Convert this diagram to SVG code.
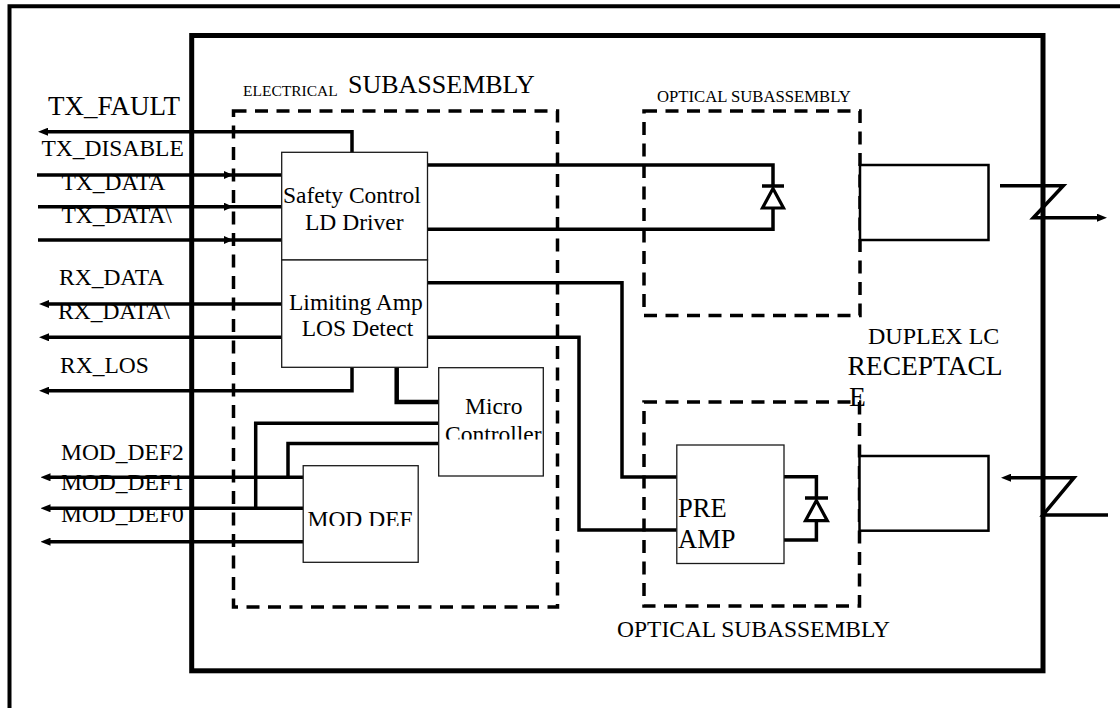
<svg xmlns="http://www.w3.org/2000/svg" width="1120" height="708" viewBox="0 0 1120 708">
<style>
.box{fill:#fff;stroke:#1a1a1a;stroke-width:1.3}
.rbox{fill:#fff;stroke:#000;stroke-width:2.5}
.dash{fill:none;stroke:#000;stroke-width:3.5;stroke-dasharray:13 8.5}
.w{fill:none;stroke:#000;stroke-width:3.5}
.d{fill:#fff;stroke:#000;stroke-width:3.2}
.t{font-family:"Liberation Serif","Times New Roman",serif;fill:#000}
.s{font-size:23.5px}
</style>
<defs>
<marker id="arrL" viewBox="0 0 10 8" refX="4" refY="4" markerWidth="10" markerHeight="8" markerUnits="userSpaceOnUse" orient="auto"><path d="M0,0L10,4L0,8z"/></marker>
<marker id="arrS" viewBox="0 0 9 8" refX="6" refY="4" markerWidth="9" markerHeight="8" markerUnits="userSpaceOnUse" orient="auto"><path d="M0,0L9,4L0,8z"/></marker>
<clipPath id="cpMicro"><rect x="439" y="368" width="104" height="71.5"/></clipPath>
<clipPath id="cpMod"><rect x="304" y="466" width="114" height="60"/></clipPath>
</defs>
<rect width="1120" height="708" fill="#fff"/>
<g id="frames">
<path d="M9.5,708V6.3H1120" fill="none" stroke="#000" stroke-width="4"/>
<rect x="191.7" y="35.5" width="851.3" height="635.3" fill="none" stroke="#000" stroke-width="5"/>
</g>
<g id="electrical-subassembly">
<rect class="dash" x="233.5" y="111" width="324" height="496"/>
<text class="t" x="243" y="96" font-size="15.5">ELECTRICAL</text>
<text class="t" x="348" y="93.3" font-size="26">SUBASSEMBLY</text>
</g>
<g id="optical-subassembly-tx">
<rect class="dash" x="644" y="111" width="216" height="204.5"/>
<text class="t" x="657" y="101.7" font-size="16.7">OPTICAL SUBASSEMBLY</text>
</g>
<g id="optical-subassembly-rx">
<rect class="dash" x="644" y="402" width="215.5" height="204"/>
<text class="t" x="617" y="637" font-size="23.5">OPTICAL SUBASSEMBLY</text>
</g>
<g id="signal-labels">
<text class="t" x="48" y="115" font-size="27">TX_FAULT</text>
<text class="t s" x="41.5" y="156">TX_DISABLE</text>
<text class="t s" x="61.5" y="190">TX_DATA</text>
<text class="t s" x="61.5" y="223">TX_DATA\</text>
<text class="t s" x="59" y="285">RX_DATA</text>
<text class="t s" x="58" y="319">RX_DATA\</text>
<text class="t s" x="60" y="372.7">RX_LOS</text>
<text class="t s" x="61" y="460">MOD_DEF2</text>
<text class="t s" x="61" y="490">MOD_DEF1</text>
<text class="t s" x="61" y="521.7">MOD_DEF0</text>
</g>
<g id="connectors">
<path class="w" d="M352,152V131.7H44" marker-end="url(#arrL)"/>
<path class="w" d="M37,175H230" marker-end="url(#arrS)"/>
<path class="w" d="M230,175H281.7"/>
<path class="w" d="M38,206.7H230" marker-end="url(#arrS)"/>
<path class="w" d="M230,206.7H281.7"/>
<path class="w" d="M38,240H230" marker-end="url(#arrS)"/>
<path class="w" d="M230,240H281.7"/>
<path class="w" d="M427.5,165H773V186"/>
<path class="w" d="M773,208V229.3H427.5"/>
<path class="w" d="M281.7,304H45" marker-end="url(#arrL)"/>
<path class="w" d="M281.7,337.3H45" marker-end="url(#arrL)"/>
<path class="w" d="M352,367.3V390.7H45" marker-end="url(#arrL)"/>
<path fill="none" stroke="#000" stroke-width="4.5" d="M396.7,367.3V402H438.5"/>
<path class="w" d="M427.5,282.7H622V477H676.8"/>
<path class="w" d="M427.5,337.3H579V530H676.8"/>
<path class="w" d="M438.5,423.3H255.7V508.3"/>
<path class="w" d="M438.5,443.5H288V477.3"/>
<path class="w" d="M303.2,477.3H46.5" marker-end="url(#arrL)"/>
<path class="w" d="M303.2,508.3H46.5" marker-end="url(#arrL)"/>
<path class="w" d="M303.2,541.7H46.5" marker-end="url(#arrL)"/>
<path class="w" d="M784,476.7H816.4V498"/>
<path class="w" d="M816.4,520.7V540H784"/>
<path class="w" d="M1000,185.7H1063.3L1033.3,217.7H1101" marker-end="url(#arrL)"/>
<path class="w" d="M1108,515H1043L1074,477.7H1007" marker-end="url(#arrL)"/>
</g>
<g id="laser-diode">
<path class="w" d="M762,186H784"/>
<polygon class="d" points="773,188.5 762.5,208 783.5,208"/>
</g>
<g id="photo-diode">
<path class="w" d="M805,498H828"/>
<polygon class="d" points="816.4,500.5 805.5,520.7 827.3,520.7"/>
</g>
<g id="safety-control">
<rect class="box" x="281.7" y="152.3" width="145.8" height="107.7"/>
<text class="t s" x="283" y="202.7">Safety Control</text>
<text class="t s" x="305" y="230">LD Driver</text>
</g>
<g id="limiting-amp">
<rect class="box" x="281.7" y="260" width="145.8" height="107.3"/>
<text class="t s" x="289" y="310">Limiting Amp</text>
<text class="t s" x="301.7" y="336">LOS Detect</text>
</g>
<g id="micro-controller">
<rect class="box" x="438.7" y="367.7" width="104.6" height="108.3"/>
<text class="t s" x="465" y="414">Micro</text>
<text class="t s" x="445" y="442" clip-path="url(#cpMicro)">Controller</text>
</g>
<g id="mod-def">
<rect class="box" x="303.2" y="465.7" width="115" height="96.6"/>
<text class="t s" x="307.5" y="527.3" clip-path="url(#cpMod)">MOD DEF</text>
</g>
<g id="pre-amp">
<rect class="box" x="676.8" y="445" width="107.2" height="118.5"/>
<text class="t" x="678" y="516.7" font-size="26.5">PRE</text>
<text class="t" x="678" y="548" font-size="26.5">AMP</text>
</g>
<g id="receptacle">
<rect class="rbox" x="860" y="165" width="128.5" height="75"/>
<rect class="rbox" x="859.5" y="456" width="129" height="74.7"/>
<text class="t" x="868" y="344" font-size="24">DUPLEX LC</text>
<text class="t" x="847.5" y="375" font-size="27.5">RECEPTACL</text>
<text class="t" x="849" y="406" font-size="27.5">E</text>
</g>
</svg>
